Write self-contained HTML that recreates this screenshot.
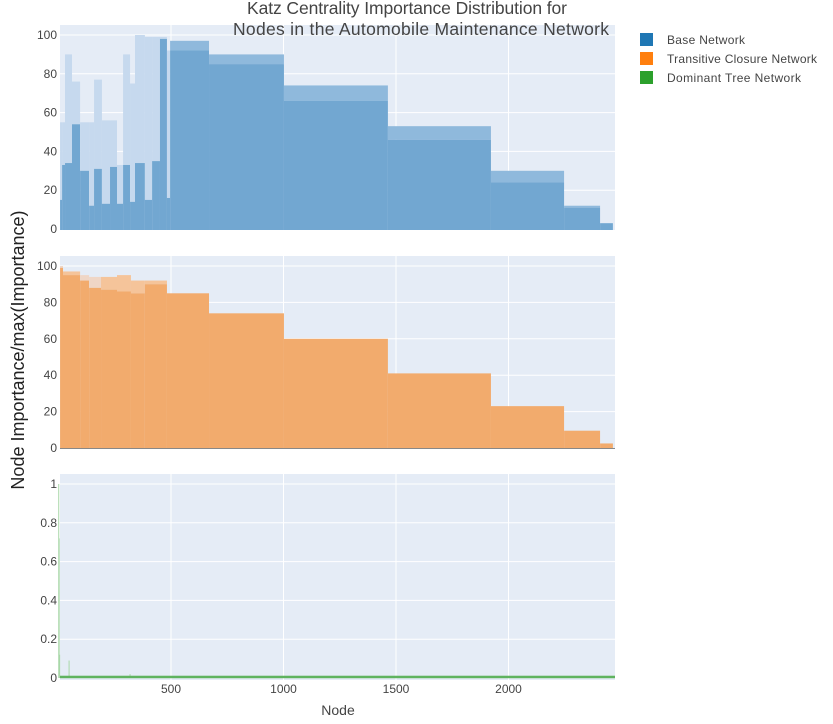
<!DOCTYPE html>
<html><head><meta charset="utf-8"><style>
body{margin:0;background:#fff;font-family:"Liberation Sans",sans-serif}
svg text{font-family:"Liberation Sans",sans-serif}
</style></head><body>
<svg id="c" width="833" height="719" xmlns="http://www.w3.org/2000/svg"></svg>
<script>
// Base network: step segments [start,end] with solid value and lighter top
const baseStart=[7,16,29,60,96,136,158,193,229,260,287,318,340,384,416,451,482,496,669,1002,1464,1922,2247,2407];
const baseEnd  =[16,29,60,96,136,158,193,229,260,287,318,340,384,416,451,482,496,669,1002,1464,1922,2247,2407,2464];
const baseVal  =[15,33,34,54,30,12,31,13,32,13,33,14,34,15,35,98,16,92,85,66,46,24,11,3];
const baseTop  =[55,55,90,76,55,55,77,56,56,33,90,75,100,99,99,99,92,97,90,74,53,30,12,3];
// Transitive closure network
const tcStart=[7,20,96,136,189,260,322,384,482,669,1002,1464,1922,2247,2407];
const tcEnd  =[20,96,136,189,260,322,384,482,669,1002,1464,1922,2247,2407,2464];
const tcVal  =[99,95,92,88,87,86,85,90,85,74,60,41,23,9.5,2.5];
const tcTop  =[100,97,95,94,94,95,92,92,85,74,60,41,23,9.5,2.5];
// Dominant tree network spikes
const dtNodes=[1,3,5,47,318];
const dtVals =[1.0,0.72,0.12,0.09,0.02];
const dtBase=0.004;
const xTicks=[500,1000,1500,2000];
const yTicks100=[0,20,40,60,80,100];
const yTicks1=[0,0.2,0.4,0.6,0.8,1];

const NS="http://www.w3.org/2000/svg";
const svg=document.getElementById('c');
function mk(tag,attrs,parent){const e=document.createElementNS(NS,tag);for(const k in attrs)e.setAttribute(k,attrs[k]);(parent||svg).appendChild(e);return e;}
const X0=60,X1=615;
const xs=v=>58.5+v*0.225;
const panels=[
 {top:25,bot:230,y0:229,ymax:100,yTop:35,ticks:yTicks100,name:'base'},
 {top:256,bot:449,y0:448,ymax:100,yTop:266,ticks:yTicks100,name:'transitive'},
 {top:474,bot:680,y0:678,ymax:1,yTop:484,ticks:yTicks1,name:'dominant'}
];
panels.forEach(p=>{
 p.ys=v=>p.y0-(v/p.ymax)*(p.y0-p.yTop);
 const bg=mk('rect',{x:X0,y:p.top,width:X1-X0,height:p.bot-p.top,fill:'#e5ecf6'});
 
 
 xTicks.forEach(t=>{mk('line',{x1:xs(t),x2:xs(t),y1:p.top,y2:p.bot,stroke:'#fff','stroke-width':1});});
 p.ticks.forEach(t=>{
  if(t>0)mk('line',{x1:X0,x2:X1,y1:p.ys(t),y2:p.ys(t),stroke:'#fff','stroke-width':1});
  const tx=mk('text',{x:57,y:p.ys(t)+4,'text-anchor':'end','font-size':12,fill:'#444'});
  tx.textContent=t;
  
  
 });
});
function drawSeg(p,st,en,val,top,solid,light,faint,nm){
 for(let i=0;i<st.length;i++){
  const x=xs(st[i]),w=xs(en[i])-xs(st[i]);
  if(top[i]>val[i]){
   const r=mk('rect',{x:x,y:p.ys(top[i]),width:w,height:p.ys(val[i])-p.ys(top[i]),fill:(en[i]-st[i]<60?faint:light)});
   
   
  }
  const r2=mk('rect',{x:x,y:p.ys(val[i]),width:w,height:p.y0-p.ys(val[i])+1,fill:solid});
  
  
 }
}
drawSeg(panels[0],baseStart,baseEnd,baseVal,baseTop,'#72a7d1','#8fb9dc','#c6d9ee','base-network');
drawSeg(panels[1],tcStart,tcEnd,tcVal,tcTop,'#f2ab6d','#f5c49a','#efd6c6','transitive-closure');
const p3=panels[2];
dtNodes.forEach((n,i)=>{
 const l=mk('line',{x1:xs(n),x2:xs(n),y1:p3.ys(dtVals[i]),y2:p3.y0,stroke:'#a8d8a8','stroke-width':1});
 
 
});
const bl=mk('rect',{x:X0,y:p3.ys(dtBase)-1.5,width:X1-X0,height:2.5,fill:'#5fb35f'});


mk('line',{x1:X0,x2:X1,y1:448.5,y2:448.5,stroke:'#888','stroke-width':1});
xTicks.forEach(t=>{
 const tx=mk('text',{x:xs(t),y:693,'text-anchor':'middle','font-size':12,fill:'#444'});
 tx.textContent=t;
 
 
});
</script>
<svg style="position:absolute;left:0;top:0" width="833" height="719" xmlns="http://www.w3.org/2000/svg">
 <text x="407" y="14" text-anchor="middle" font-size="17.5" fill="#444" font-family="Liberation Sans, sans-serif" textLength="320">Katz Centrality Importance Distribution for</text>
 <text x="421" y="35" text-anchor="middle" font-size="17.5" fill="#444" font-family="Liberation Sans, sans-serif" textLength="376">Nodes in the Automobile Maintenance Network</text>
 <text transform="translate(24,350) rotate(-90)" text-anchor="middle" font-size="18" fill="#222" font-family="Liberation Sans, sans-serif">Node Importance/max(Importance)</text>
 <text x="338" y="715" text-anchor="middle" font-size="14" fill="#444" font-family="Liberation Sans, sans-serif">Node</text>
 <g font-size="12" fill="#444" font-family="Liberation Sans, sans-serif">
  <g><rect x="640" y="33" width="13" height="13" fill="#1f77b4"/><text x="667" y="44" textLength="78">Base Network</text></g>
  <g><rect x="640" y="52" width="13" height="13" fill="#ff7f0e"/><text x="667" y="63" textLength="150">Transitive Closure Network</text></g>
  <g><rect x="640" y="71" width="13" height="13" fill="#2ca02c"/><text x="667" y="82" textLength="134">Dominant Tree Network</text></g>
 </g>
</svg>
</body></html>
